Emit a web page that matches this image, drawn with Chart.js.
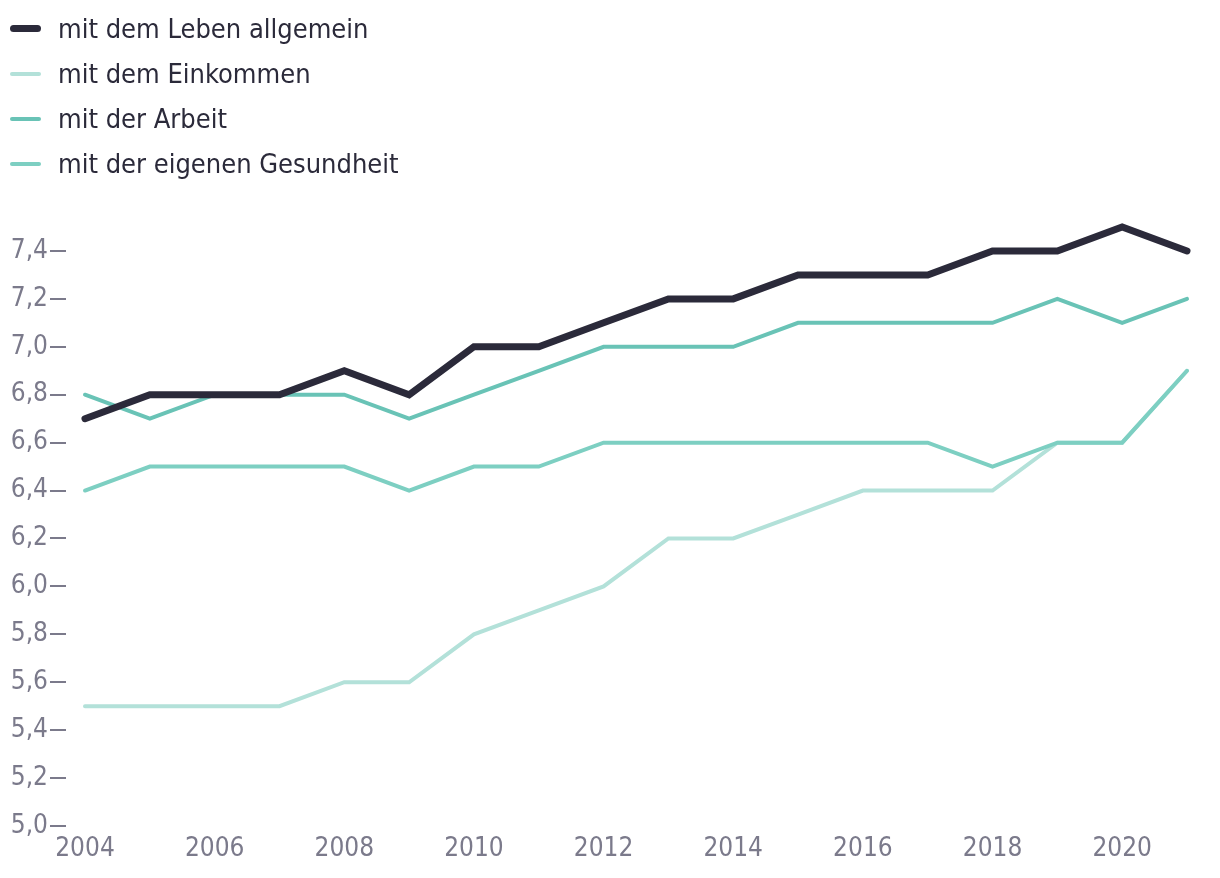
<!DOCTYPE html>
<html lang="de">

<head>
    <meta charset="UTF-8">
    <title>Zufriedenheit</title>
    <style>
        html, body { margin: 0; padding: 0; background: #fff; }
        .wrap { position: relative; width: 1220px; height: 878px; }
        #legend { position: absolute; left: 10px; top: 6px; margin: 0; padding: 0; list-style: none;
            font-family: "DejaVu Sans Condensed", "DejaVu Sans", sans-serif; font-size: 27px; color: #2b2a3a; }
        #legend li { height: 45px; display: flex; align-items: center; }
        #legend li span.sw { display: inline-block; width: 31px; border-radius: 4px; margin-right: 17px; }
    </style>
</head>

<body>
    <div class="wrap">
        <canvas id="Chart" width="1220" height="878"></canvas>
        <ul id="legend"></ul>
    </div>

    <script src="https://cdn.jsdelivr.net/npm/chart.js"></script>
    <script>
        const years = [2004, 2005, 2006, 2007, 2008, 2009, 2010, 2011, 2012, 2013, 2014, 2015, 2016, 2017, 2018, 2019, 2020, 2021];
        const leben      = [6.7, 6.8, 6.8, 6.8, 6.9, 6.8, 7.0, 7.0, 7.1, 7.2, 7.2, 7.3, 7.3, 7.3, 7.4, 7.4, 7.5, 7.4];
        const einkommen  = [5.5, 5.5, 5.5, 5.5, 5.6, 5.6, 5.8, 5.9, 6.0, 6.2, 6.2, 6.3, 6.4, 6.4, 6.4, 6.6, 6.6, 6.9];
        const arbeit     = [6.8, 6.7, 6.8, 6.8, 6.8, 6.7, 6.8, 6.9, 7.0, 7.0, 7.0, 7.1, 7.1, 7.1, 7.1, 7.2, 7.1, 7.2];
        const gesundheit = [6.4, 6.5, 6.5, 6.5, 6.5, 6.4, 6.5, 6.5, 6.6, 6.6, 6.6, 6.6, 6.6, 6.6, 6.5, 6.6, 6.6, 6.9];
        const xTicks = [2004, 2006, 2008, 2010, 2012, 2014, 2016, 2018, 2020];
        const yTicks = [5.0, 5.2, 5.4, 5.6, 5.8, 6.0, 6.2, 6.4, 6.6, 6.8, 7.0, 7.2, 7.4];

        const FONT = '"DejaVu Sans Condensed", "DejaVu Sans", sans-serif';
        const GREY = '#7b7a8b';

        function points(arr) {
            return arr.map((v, i) => ({ x: years[i], y: v }));
        }

        const series = [
            { label: 'mit dem Leben allgemein', data: leben, color: '#2b2a3a', width: 7, order: 0 },
            { label: 'mit dem Einkommen', data: einkommen, color: '#b3e1d9', width: 4, order: 3 },
            { label: 'mit der Arbeit', data: arbeit, color: '#69c3b6', width: 4, order: 2 },
            { label: 'mit der eigenen Gesundheit', data: gesundheit, color: '#7dcfc2', width: 4, order: 1 }
        ];

        var ctx = document.getElementById('Chart').getContext('2d');
        var chart = new Chart(ctx, {
            type: 'line',
            data: {
                datasets: series.map(s => ({
                    label: s.label,
                    data: points(s.data),
                    borderColor: s.color,
                    borderWidth: s.width,
                    borderCapStyle: 'round',
                    borderJoinStyle: 'miter',
                    pointRadius: 0,
                    fill: false,
                    tension: 0,
                    clip: false,
                    order: s.order
                }))
            },
            options: {
                responsive: false,
                animation: false,
                layout: { padding: { top: 227, right: 33, left: 0, bottom: 0 } },
                plugins: { legend: { display: false }, tooltip: { enabled: false } },
                scales: {
                    x: {
                        type: 'linear',
                        min: 2004 - 19 / 64.82, // kleiner Abstand zwischen Ticks und Linien
                        max: 2021,
                        afterBuildTicks: (scale) => { scale.ticks = xTicks.map(v => ({ value: v })); },
                        afterFit: (scale) => { scale.height = 52; },
                        grid: { display: false, drawTicks: false },
                        border: { display: false },
                        ticks: {
                            color: GREY,
                            padding: 8,
                            font: { family: FONT, size: 26 },
                            callback: (v) => String(v)
                        }
                    },
                    y: {
                        min: 5.0,
                        max: 7.5,
                        afterBuildTicks: (scale) => { scale.ticks = yTicks.map(v => ({ value: v })); },
                        afterFit: (scale) => { scale.width = 66; },
                        grid: { drawOnChartArea: false, drawTicks: true, tickLength: 16, color: GREY, lineWidth: 2 },
                        border: { display: false },
                        ticks: {
                            color: GREY,
                            padding: 2,
                            font: { family: FONT, size: 26 },
                            callback: (v) => v.toFixed(1).replace('.', ',')
                        }
                    }
                }
            }
        });

        // Legende als HTML, untereinander wie im Original
        const legend = document.getElementById('legend');
        series.forEach(s => {
            const li = document.createElement('li');
            const sw = document.createElement('span');
            sw.className = 'sw';
            sw.style.height = s.width + 'px';
            sw.style.background = s.color;
            li.appendChild(sw);
            li.appendChild(document.createTextNode(s.label));
            legend.appendChild(li);
        });
    </script>

</body>

</html>
